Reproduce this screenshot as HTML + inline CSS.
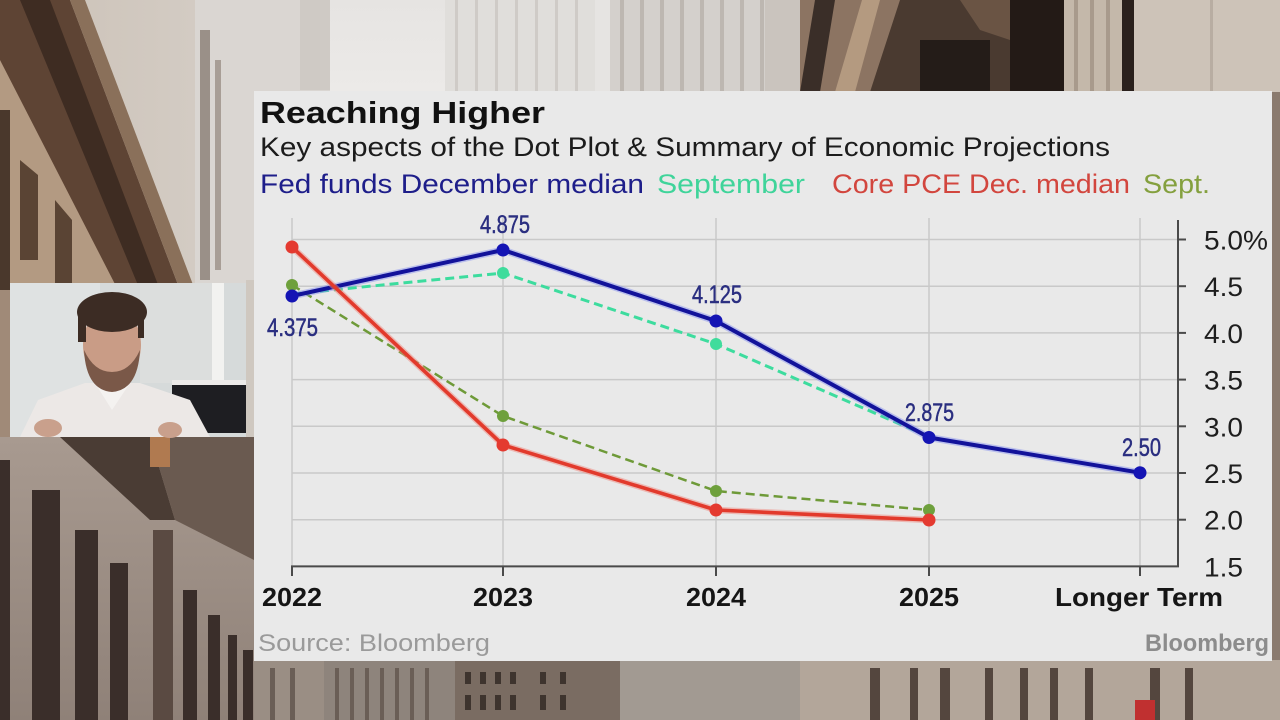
<!DOCTYPE html>
<html><head><meta charset="utf-8"><style>
html,body{margin:0;padding:0;width:1280px;height:720px;overflow:hidden;background:#b8aca0}
svg{display:block}
text{font-family:"Liberation Sans",sans-serif}
</style></head><body>
<svg width="1280" height="720" viewBox="0 0 1280 720" xmlns="http://www.w3.org/2000/svg">
<defs>
<linearGradient id="sky" x1="0" y1="0" x2="0" y2="1"><stop offset="0" stop-color="#e6e4e2"/><stop offset="1" stop-color="#eceae8"/></linearGradient>
<linearGradient id="stoneL" x1="0" y1="0" x2="1" y2="0"><stop offset="0" stop-color="#cbc1b6"/><stop offset="1" stop-color="#d9d3cd"/></linearGradient>
<linearGradient id="botL" x1="0" y1="0" x2="0" y2="1"><stop offset="0" stop-color="#a89a90"/><stop offset="1" stop-color="#8f8178"/></linearGradient>
</defs>

<!-- ===== BACKGROUND PHOTO APPROX ===== -->
<rect x="0" y="0" width="1280" height="720" fill="#b8aca0"/>
<rect x="0" y="0" width="340" height="290" fill="url(#stoneL)"/>
<rect x="195" y="0" width="135" height="290" fill="#dad6d2"/>
<rect x="200" y="30" width="10" height="250" fill="#9a9088"/>
<rect x="215" y="60" width="6" height="210" fill="#a89e96"/>
<rect x="300" y="0" width="30" height="90" fill="#cfcac5"/>
<polygon points="0,55 0,290 140,290" fill="#b39a82"/>
<rect x="0" y="110" width="10" height="180" fill="#4a382c"/>
<polygon points="20,160 38,175 38,260 20,260" fill="#5a4434"/>
<polygon points="55,200 72,220 72,285 55,285" fill="#5a4434"/>
<polygon points="0,0 70,0 180,290 118,290 0,60" fill="#5e4434"/>
<polygon points="20,0 50,0 160,290 140,290" fill="#3e2c22"/>
<polygon points="70,0 85,0 195,290 180,290" fill="#8a705a"/>
<rect x="0" y="290" width="254" height="150" fill="#a08a78"/>
<rect x="246" y="280" width="8" height="160" fill="#cfc8c0"/>
<rect x="0" y="437" width="254" height="283" fill="url(#botL)"/>
<polygon points="60,437 150,437 175,520 150,520" fill="#4a3c34"/>
<polygon points="150,437 254,437 254,560 175,520" fill="#6a5a50"/>
<rect x="150" y="437" width="20" height="30" fill="#b07a50"/>
<rect x="0" y="460" width="10" height="260" fill="#3a2e2a"/>
<rect x="32" y="490" width="28" height="230" fill="#3a2e2a"/>
<rect x="75" y="530" width="23" height="190" fill="#3a2e2a"/>
<rect x="110" y="563" width="18" height="157" fill="#3a2e2a"/>
<rect x="153" y="530" width="20" height="190" fill="#5a4a42"/>
<rect x="183" y="590" width="14" height="130" fill="#3a2e2a"/>
<rect x="208" y="615" width="12" height="105" fill="#3a2e2a"/>
<rect x="228" y="635" width="9" height="85" fill="#3a2e2a"/>
<rect x="243" y="650" width="10" height="70" fill="#3a2e2a"/>

<rect x="330" y="0" width="115" height="92" fill="url(#sky)"/>
<rect x="445" y="0" width="150" height="92" fill="#e0dedb"/>
<g fill="#cfcbc7">
<rect x="455" y="0" width="3" height="92"/><rect x="475" y="0" width="3" height="92"/><rect x="495" y="0" width="3" height="92"/><rect x="515" y="0" width="3" height="92"/><rect x="535" y="0" width="3" height="92"/><rect x="555" y="0" width="3" height="92"/><rect x="575" y="0" width="3" height="92"/>
</g>
<rect x="595" y="0" width="15" height="92" fill="#e6e4e2"/>
<rect x="610" y="0" width="190" height="92" fill="#d4d0cc"/>
<g fill="#bdb7b1">
<rect x="620" y="0" width="4" height="92"/><rect x="640" y="0" width="4" height="92"/><rect x="660" y="0" width="4" height="92"/><rect x="680" y="0" width="4" height="92"/><rect x="700" y="0" width="4" height="92"/><rect x="720" y="0" width="4" height="92"/><rect x="740" y="0" width="4" height="92"/><rect x="760" y="0" width="4" height="92"/>
</g>
<rect x="765" y="0" width="35" height="92" fill="#cac4be"/>
<rect x="800" y="0" width="334" height="92" fill="#8c7462"/>
<polygon points="800,92 815,0 835,0 820,92" fill="#3a2e28"/>
<polygon points="835,92 862,0 880,0 855,92" fill="#b49a80"/>
<polygon points="870,92 900,0 1010,0 1010,92" fill="#4a3a30"/>
<rect x="920" y="40" width="70" height="52" fill="#241c18"/>
<polygon points="960,0 1010,0 1010,40 980,30" fill="#6a5444"/>
<rect x="1010" y="0" width="56" height="92" fill="#231a16"/>
<rect x="1064" y="0" width="58" height="92" fill="#c4b8aa"/>
<rect x="1074" y="0" width="4" height="92" fill="#a89a8c"/>
<rect x="1090" y="0" width="4" height="92" fill="#a89a8c"/>
<rect x="1106" y="0" width="4" height="92" fill="#a89a8c"/>
<rect x="1122" y="0" width="12" height="92" fill="#2a201c"/>
<rect x="1134" y="0" width="146" height="92" fill="#cdc3b8"/>
<rect x="1210" y="0" width="3" height="92" fill="#b8ada2"/>
<rect x="1272" y="92" width="8" height="628" fill="#8a7a6e"/>

<rect x="254" y="660" width="1026" height="60" fill="#8e847c"/>
<rect x="254" y="660" width="70" height="60" fill="#9a8e84"/>
<g fill="#6a5e56">
<rect x="270" y="668" width="5" height="52"/><rect x="290" y="668" width="5" height="52"/><rect x="335" y="668" width="4" height="52"/><rect x="350" y="668" width="4" height="52"/><rect x="365" y="668" width="4" height="52"/><rect x="380" y="668" width="4" height="52"/><rect x="395" y="668" width="4" height="52"/><rect x="410" y="668" width="4" height="52"/><rect x="425" y="668" width="4" height="52"/>
</g>
<rect x="455" y="660" width="165" height="60" fill="#7a6c62"/>
<g fill="#3e342e">
<rect x="465" y="672" width="6" height="12"/><rect x="480" y="672" width="6" height="12"/><rect x="495" y="672" width="6" height="12"/><rect x="510" y="672" width="6" height="12"/><rect x="540" y="672" width="6" height="12"/><rect x="560" y="672" width="6" height="12"/>
<rect x="465" y="695" width="6" height="15"/><rect x="480" y="695" width="6" height="15"/><rect x="495" y="695" width="6" height="15"/><rect x="510" y="695" width="6" height="15"/><rect x="540" y="695" width="6" height="15"/><rect x="560" y="695" width="6" height="15"/>
</g>
<rect x="620" y="660" width="180" height="60" fill="#a29a92"/>
<rect x="800" y="660" width="480" height="60" fill="#b3a69a"/>
<g fill="#54463e">
<rect x="870" y="668" width="10" height="52"/><rect x="910" y="668" width="8" height="52"/><rect x="940" y="668" width="10" height="52"/><rect x="985" y="668" width="8" height="52"/><rect x="1020" y="668" width="8" height="52"/><rect x="1050" y="668" width="8" height="52"/><rect x="1085" y="668" width="8" height="52"/><rect x="1150" y="668" width="10" height="52"/><rect x="1185" y="668" width="8" height="52"/>
</g>
<rect x="1135" y="700" width="20" height="20" fill="#c03030"/>

<!-- webcam inset -->
<rect x="10" y="283" width="236" height="154" fill="#d6dada"/>
<rect x="10" y="283" width="90" height="154" fill="#dfe2e2"/>
<rect x="140" y="283" width="80" height="100" fill="#dcdedd"/>
<rect x="212" y="283" width="12" height="100" fill="#f2f2f0"/>
<rect x="172" y="380" width="74" height="6" fill="#eceae8"/>
<rect x="172" y="385" width="74" height="48" fill="#1e1e22"/>
<polygon points="20,437 38,400 85,383 140,383 190,400 210,437" fill="#ece8e6"/>
<polygon points="95,383 112,410 130,383" fill="#f4f2f0"/>
<ellipse cx="112" cy="345" rx="29" ry="38" fill="#c99c86"/>
<path d="M84,350 Q86,390 112,392 Q138,390 140,350 Q130,372 112,372 Q94,372 84,350 Z" fill="#7a5848"/>
<ellipse cx="112" cy="312" rx="35" ry="20" fill="#3c2c24"/>
<rect x="78" y="312" width="8" height="30" fill="#3c2c24"/>
<rect x="138" y="312" width="6" height="26" fill="#3c2c24"/>
<ellipse cx="48" cy="428" rx="14" ry="9" fill="#c9a08c"/>
<ellipse cx="170" cy="430" rx="12" ry="8" fill="#c9a08c"/>

<!-- ===== CHART PANEL ===== -->
<rect x="254" y="91" width="1018" height="570" fill="#e9e9e9"/>

<text x="260" y="123" font-size="31" font-weight="bold" fill="#111" textLength="285" lengthAdjust="spacingAndGlyphs">Reaching Higher</text>
<text x="260" y="156" font-size="26.5" fill="#1c1c1c" textLength="850" lengthAdjust="spacingAndGlyphs">Key aspects of the Dot Plot &amp; Summary of Economic Projections</text>
<text x="260" y="193" font-size="26.5" fill="#1e1e8a" textLength="384" lengthAdjust="spacingAndGlyphs">Fed funds December median</text>
<text x="657" y="193" font-size="26.5" fill="#3fd49a" textLength="148" lengthAdjust="spacingAndGlyphs">September</text>
<text x="832" y="193" font-size="26.5" fill="#d2463e" textLength="298" lengthAdjust="spacingAndGlyphs">Core PCE Dec. median</text>
<text x="1143" y="193" font-size="26.5" fill="#84a03e" textLength="67" lengthAdjust="spacingAndGlyphs">Sept.</text>

<g stroke="#c9c9c9" stroke-width="1.5">
<line x1="292" y1="239.5" x2="1178" y2="239.5"/>
<line x1="292" y1="286.2" x2="1178" y2="286.2"/>
<line x1="292" y1="332.9" x2="1178" y2="332.9"/>
<line x1="292" y1="379.6" x2="1178" y2="379.6"/>
<line x1="292" y1="426.3" x2="1178" y2="426.3"/>
<line x1="292" y1="473" x2="1178" y2="473"/>
<line x1="292" y1="519.7" x2="1178" y2="519.7"/>
<line x1="292" y1="218" x2="292" y2="566"/>
<line x1="503" y1="218" x2="503" y2="566"/>
<line x1="716" y1="218" x2="716" y2="566"/>
<line x1="929" y1="218" x2="929" y2="566"/>
<line x1="1140" y1="218" x2="1140" y2="566"/>
</g>
<g stroke="#4a4a4a" stroke-width="2">
<line x1="1178" y1="220" x2="1178" y2="567"/>
<line x1="291" y1="566.4" x2="1179" y2="566.4"/>
<line x1="1178" y1="239.5" x2="1186" y2="239.5"/>
<line x1="1178" y1="286.2" x2="1186" y2="286.2"/>
<line x1="1178" y1="332.9" x2="1186" y2="332.9"/>
<line x1="1178" y1="379.6" x2="1186" y2="379.6"/>
<line x1="1178" y1="426.3" x2="1186" y2="426.3"/>
<line x1="1178" y1="473" x2="1186" y2="473"/>
<line x1="1178" y1="519.7" x2="1186" y2="519.7"/>
<line x1="292" y1="566" x2="292" y2="576"/>
<line x1="503" y1="566" x2="503" y2="576"/>
<line x1="716" y1="566" x2="716" y2="576"/>
<line x1="929" y1="566" x2="929" y2="576"/>
<line x1="1140" y1="566" x2="1140" y2="576"/>
</g>

<g font-size="27" fill="#1e1e1e">
<text x="1204" y="249.5" textLength="64" lengthAdjust="spacingAndGlyphs">5.0%</text>
<text x="1204" y="296.2" textLength="39" lengthAdjust="spacingAndGlyphs">4.5</text>
<text x="1204" y="342.9" textLength="39" lengthAdjust="spacingAndGlyphs">4.0</text>
<text x="1204" y="389.6" textLength="39" lengthAdjust="spacingAndGlyphs">3.5</text>
<text x="1204" y="436.3" textLength="39" lengthAdjust="spacingAndGlyphs">3.0</text>
<text x="1204" y="483" textLength="39" lengthAdjust="spacingAndGlyphs">2.5</text>
<text x="1204" y="529.7" textLength="39" lengthAdjust="spacingAndGlyphs">2.0</text>
<text x="1204" y="576.4" textLength="39" lengthAdjust="spacingAndGlyphs">1.5</text>
</g>
<g font-size="26" font-weight="bold" fill="#151515" text-anchor="middle">
<text x="292" y="606" textLength="60" lengthAdjust="spacingAndGlyphs">2022</text>
<text x="503" y="606" textLength="60" lengthAdjust="spacingAndGlyphs">2023</text>
<text x="716" y="606" textLength="60" lengthAdjust="spacingAndGlyphs">2024</text>
<text x="929" y="606" textLength="60" lengthAdjust="spacingAndGlyphs">2025</text>
<text x="1139" y="606" textLength="168" lengthAdjust="spacingAndGlyphs">Longer Term</text>
</g>

<polyline points="292,285 503,416 716,491 929,510" fill="none" stroke="#6e9a38" stroke-width="2.5" stroke-dasharray="9,5"/>
<polyline points="292,294 503,273 716,344 925,435" fill="none" stroke="#3ddc9e" stroke-width="3" stroke-dasharray="9,5"/>
<polyline points="292,296 503,250 716,321 929,437.5 1140,472.7" fill="none" stroke="#7e8af0" stroke-opacity="0.45" stroke-width="7" stroke-linejoin="round"/>
<polyline points="292,296 503,250 716,321 929,437.5 1140,472.7" fill="none" stroke="#12129a" stroke-width="4" stroke-linejoin="round"/>
<polyline points="292,247 503,445 716,510 929,520" fill="none" stroke="#f08a80" stroke-opacity="0.5" stroke-width="6.5" stroke-linejoin="round"/>
<polyline points="292,247 503,445 716,510 929,520" fill="none" stroke="#e23a2c" stroke-width="3.6" stroke-linejoin="round"/>

<g fill="#6ea03c">
<circle cx="292" cy="285" r="6"/><circle cx="503" cy="416" r="6"/><circle cx="716" cy="491" r="6"/><circle cx="929" cy="510" r="6"/>
</g>
<g fill="#3fdc9c">
<circle cx="503" cy="273" r="6"/><circle cx="716" cy="344" r="6"/>
</g>
<g fill="#1414b4">
<circle cx="292" cy="296" r="6.5"/><circle cx="503" cy="250" r="6.5"/><circle cx="716" cy="321" r="6.5"/><circle cx="929" cy="437.5" r="6.5"/><circle cx="1140" cy="472.7" r="6.5"/>
</g>
<g fill="#e43a30">
<circle cx="292" cy="247" r="6.5"/><circle cx="503" cy="445" r="6.5"/><circle cx="716" cy="510" r="6.5"/><circle cx="929" cy="520" r="6.5"/>
</g>

<g font-size="25" fill="#2a2e80" stroke="#2a2e80" stroke-width="0.5">
<text x="267" y="336" textLength="51" lengthAdjust="spacingAndGlyphs">4.375</text>
<text x="480" y="233" textLength="50" lengthAdjust="spacingAndGlyphs">4.875</text>
<text x="692" y="303" textLength="50" lengthAdjust="spacingAndGlyphs">4.125</text>
<text x="905" y="421" textLength="49" lengthAdjust="spacingAndGlyphs">2.875</text>
<text x="1122" y="456" textLength="39" lengthAdjust="spacingAndGlyphs">2.50</text>
</g>

<text x="258" y="651" font-size="24" fill="#9a9a9a" textLength="232" lengthAdjust="spacingAndGlyphs">Source: Bloomberg</text>
<text x="1145" y="651" font-size="24" font-weight="bold" fill="#8c8c8c" textLength="124" lengthAdjust="spacingAndGlyphs">Bloomberg</text>
</svg>
</body></html>
